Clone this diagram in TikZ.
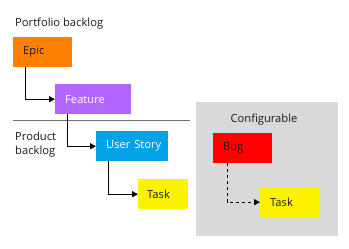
\documentclass[tikz,border=0pt]{standalone}
\usepackage{fontspec}
\setmainfont{Open Sans}
\usetikzlibrary{arrows.meta}
\definecolor{epicc}{HTML}{FF7F00}
\definecolor{featc}{HTML}{B266FF}
\definecolor{storyc}{HTML}{00A2E8}
\definecolor{taskc}{HTML}{FFF200}
\definecolor{bugc}{HTML}{FF0000}
\definecolor{cfgc}{HTML}{D9D9D9}
\definecolor{sepc}{HTML}{707070}
\definecolor{txtc}{HTML}{1A1A1A}
\begin{document}
\begin{tikzpicture}[x=1pt,y=-1pt,
  every node/.style={font=\fontsize{11.2}{14}\selectfont, text=txtc},
  wi/.style={rectangle, anchor=north west, minimum height=30pt, inner xsep=0pt, inner ysep=0pt, align=left, text width=#1},
  arr/.style={draw=black, line width=0.9pt, -{Triangle[length=6pt,width=6pt]}},
  lbl/.style={anchor=base west, inner sep=0pt, align=left}]
\useasboundingbox (0,0) rectangle (349,249);
\fill[cfgc] (196,102) rectangle (338,236);
\node[lbl] (pb) at (15,27) {Portfolio backlog};
\node[lbl, anchor=north west] (prb) at (15,132) {Product\\backlog};
\node[anchor=base, inner sep=0pt] (cfg) at (264,122) {Configurable};
\draw[sepc, line width=0.8pt] (13,120) -- (190,120);
\node[wi=59pt, fill=epicc] (epic) at (13,37) {\hspace*{10pt}Epic};
\node[wi=76pt, fill=featc, text=white] (feat) at (55,84) {\hspace*{10pt}Feature};
\node[wi=72pt, fill=storyc, text=white] (story) at (96,131) {\hspace*{10pt}User Story};
\node[wi=50pt, fill=taskc] (task) at (138,179) {\hspace*{9pt}Task};
\node[wi=59pt, fill=bugc] (bug) at (213,133) {\hspace*{10pt}Bug};
\node[wi=59pt, fill=taskc] (task2) at (260,187) {\hspace*{10pt}Task};
\draw[arr] ([xshift=12pt]epic.south west) |- (feat.west);
\draw[arr] ([xshift=12pt]feat.south west) |- (story.west);
\draw[arr] ([xshift=12pt]story.south west) |- (task.west);
\draw[arr, dashed] ([xshift=14pt]bug.south west) |- (task2.west);
\end{tikzpicture}
\end{document}
